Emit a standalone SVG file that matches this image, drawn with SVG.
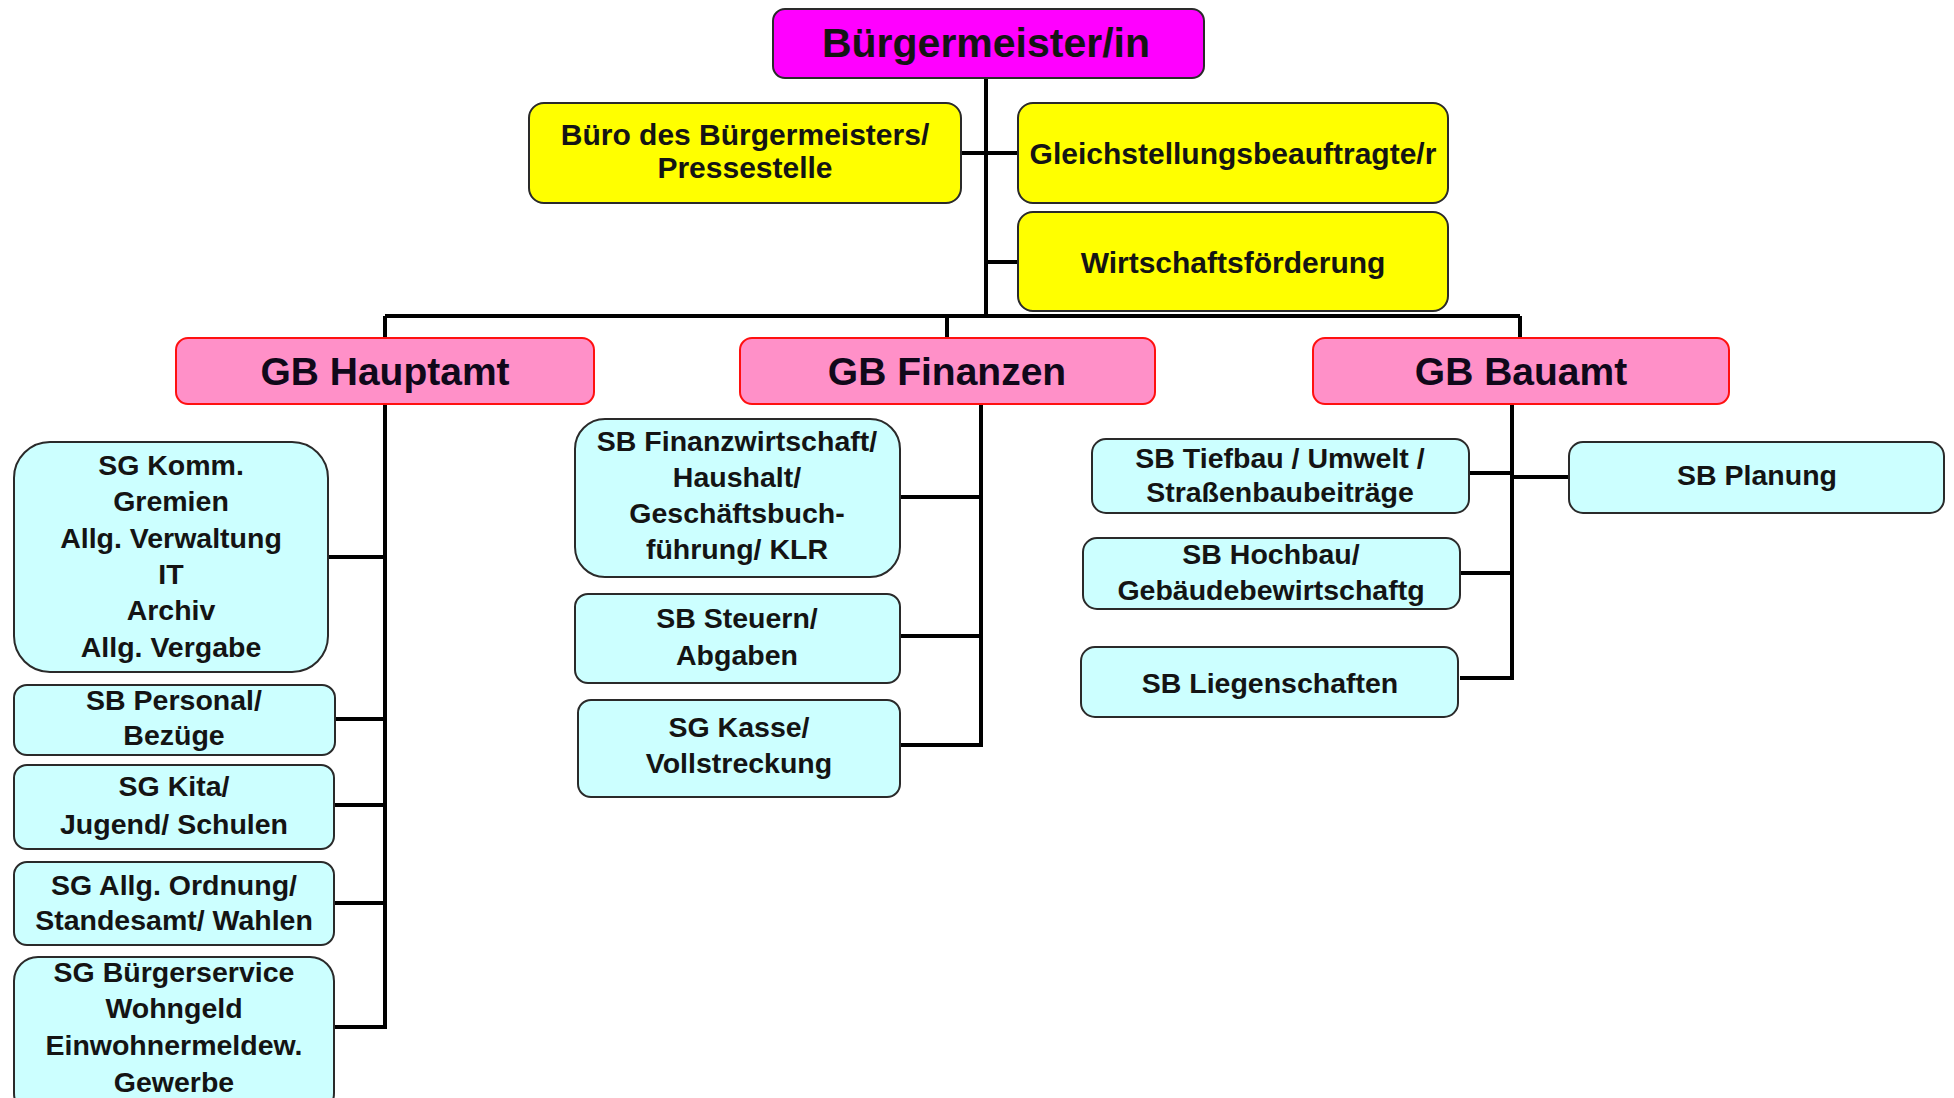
<svg xmlns="http://www.w3.org/2000/svg" width="1954" height="1098" viewBox="0 0 1954 1098">
  <style>
    text { font-family: "Liberation Sans", Arial, sans-serif; font-weight: bold; fill: #141414; text-anchor: middle; }
    .t-top { font-size: 41px; }
    .t-staff { font-size: 30px; }
    .t-gb { font-size: 39px; fill: #10081a; }
    .t-unit { font-size: 28.5px; }
    .box-top { fill: #ff00ff; stroke: #2a2a2a; stroke-width: 2; }
    .box-staff { fill: #ffff00; stroke: #2a2a2a; stroke-width: 2; }
    .box-gb { fill: #ff90c8; stroke: #ff1010; stroke-width: 2; }
    .box-unit { fill: #ccffff; stroke: #2a2a2a; stroke-width: 2; }
    .conn { fill: none; stroke: #000; stroke-width: 4; stroke-linecap: butt; }
  </style>
  <rect width="1954" height="1098" fill="#ffffff"/>

  <!-- connectors -->
  <g id="connectors" class="conn">
    <!-- mayor trunk and staff offices -->
    <path d="M986 78 V316"/>
    <path d="M961 153 H1018"/>
    <path d="M986 262 H1018"/>
    <!-- bar to the three departments -->
    <path d="M385 316 H1520"/>
    <path d="M385 316 V338"/>
    <path d="M947 316 V338"/>
    <path d="M1520 316 V338"/>
    <!-- GB Hauptamt -->
    <path d="M385 404 V1027"/>
    <path d="M328 557 H385"/>
    <path d="M335 719 H385"/>
    <path d="M334 805 H385"/>
    <path d="M334 903 H385"/>
    <path d="M334 1027 H387"/>
    <!-- GB Finanzen -->
    <path d="M981 404 V745"/>
    <path d="M900 497 H981"/>
    <path d="M900 636 H981"/>
    <path d="M900 745 H983"/>
    <!-- GB Bauamt -->
    <path d="M1512 404 V678"/>
    <path d="M1469 473 H1512"/>
    <path d="M1512 477 H1569"/>
    <path d="M1460 573 H1512"/>
    <path d="M1460 678 H1514"/>
  </g>

  <!-- top level -->
  <g id="buergermeister">
    <rect class="box-top" x="773" y="9" width="431" height="69" rx="12"/>
    <text class="t-top" x="986" y="57">Bürgermeister/in</text>
  </g>

  <g id="buero">
    <rect class="box-staff" x="529" y="103" width="432" height="100" rx="15"/>
    <text class="t-staff" x="745" y="145">Büro des Bürgermeisters/</text>
    <text class="t-staff" x="745" y="178">Pressestelle</text>
  </g>

  <g id="gleichstellung">
    <rect class="box-staff" x="1018" y="103" width="430" height="100" rx="15"/>
    <text class="t-staff" x="1233" y="164">Gleichstellungsbeauftragte/r</text>
  </g>

  <g id="wirtschaft">
    <rect class="box-staff" x="1018" y="212" width="430" height="99" rx="15"/>
    <text class="t-staff" x="1233" y="273">Wirtschaftsförderung</text>
  </g>

  <!-- departments -->
  <g id="gb-hauptamt">
    <rect class="box-gb" x="176" y="338" width="418" height="66" rx="12"/>
    <text class="t-gb" x="385" y="385">GB Hauptamt</text>
  </g>

  <g id="gb-finanzen">
    <rect class="box-gb" x="740" y="338" width="415" height="66" rx="12"/>
    <text class="t-gb" x="947" y="385">GB Finanzen</text>
  </g>

  <g id="gb-bauamt">
    <rect class="box-gb" x="1313" y="338" width="416" height="66" rx="12"/>
    <text class="t-gb" x="1521" y="385">GB Bauamt</text>
  </g>

  <!-- GB Hauptamt units -->
  <g id="sg-komm">
    <rect class="box-unit" x="14" y="442" width="314" height="230" rx="36"/>
    <text class="t-unit" x="171" y="475">SG Komm.</text>
    <text class="t-unit" x="171" y="511">Gremien</text>
    <text class="t-unit" x="171" y="548">Allg. Verwaltung</text>
    <text class="t-unit" x="171" y="584">IT</text>
    <text class="t-unit" x="171" y="620">Archiv</text>
    <text class="t-unit" x="171" y="657">Allg. Vergabe</text>
  </g>

  <g id="sb-personal">
    <rect class="box-unit" x="14" y="685" width="321" height="70" rx="13"/>
    <text class="t-unit" x="174" y="710">SB Personal/</text>
    <text class="t-unit" x="174" y="745">Bezüge</text>
  </g>

  <g id="sg-kita">
    <rect class="box-unit" x="14" y="765" width="320" height="84" rx="13"/>
    <text class="t-unit" x="174" y="796">SG Kita/</text>
    <text class="t-unit" x="174" y="834">Jugend/  Schulen</text>
  </g>

  <g id="sg-ordnung">
    <rect class="box-unit" x="14" y="862" width="320" height="83" rx="13"/>
    <text class="t-unit" x="174" y="895">SG Allg. Ordnung/</text>
    <text class="t-unit" x="174" y="930">Standesamt/ Wahlen</text>
  </g>

  <g id="sg-buergerservice">
    <rect class="box-unit" x="14" y="957" width="320" height="160" rx="24"/>
    <text class="t-unit" x="174" y="982">SG Bürgerservice</text>
    <text class="t-unit" x="174" y="1018">Wohngeld</text>
    <text class="t-unit" x="174" y="1055">Einwohnermeldew.</text>
    <text class="t-unit" x="174" y="1092">Gewerbe</text>
  </g>

  <!-- GB Finanzen units -->
  <g id="sb-finanzwirtschaft">
    <rect class="box-unit" x="575" y="419" width="325" height="158" rx="30"/>
    <text class="t-unit" x="737" y="451">SB Finanzwirtschaft/</text>
    <text class="t-unit" x="737" y="487">Haushalt/</text>
    <text class="t-unit" x="737" y="523">Geschäftsbuch-</text>
    <text class="t-unit" x="737" y="559">führung/ KLR</text>
  </g>

  <g id="sb-steuern">
    <rect class="box-unit" x="575" y="594" width="325" height="89" rx="13"/>
    <text class="t-unit" x="737" y="628">SB Steuern/</text>
    <text class="t-unit" x="737" y="665">Abgaben</text>
  </g>

  <g id="sg-kasse">
    <rect class="box-unit" x="578" y="700" width="322" height="97" rx="13"/>
    <text class="t-unit" x="739" y="737">SG Kasse/</text>
    <text class="t-unit" x="739" y="773">Vollstreckung</text>
  </g>

  <!-- GB Bauamt units -->
  <g id="sb-tiefbau">
    <rect class="box-unit" x="1092" y="439" width="377" height="74" rx="14"/>
    <text class="t-unit" x="1280" y="468">SB Tiefbau / Umwelt /</text>
    <text class="t-unit" x="1280" y="502">Straßenbaubeiträge</text>
  </g>

  <g id="sb-planung">
    <rect class="box-unit" x="1569" y="442" width="375" height="71" rx="14"/>
    <text class="t-unit" x="1757" y="485">SB Planung</text>
  </g>

  <g id="sb-hochbau">
    <rect class="box-unit" x="1083" y="538" width="377" height="71" rx="14"/>
    <text class="t-unit" x="1271" y="564">SB Hochbau/</text>
    <text class="t-unit" x="1271" y="600">Gebäudebewirtschaftg</text>
  </g>

  <g id="sb-liegenschaften">
    <rect class="box-unit" x="1081" y="647" width="377" height="70" rx="14"/>
    <text class="t-unit" x="1270" y="693">SB Liegenschaften</text>
  </g>
</svg>
